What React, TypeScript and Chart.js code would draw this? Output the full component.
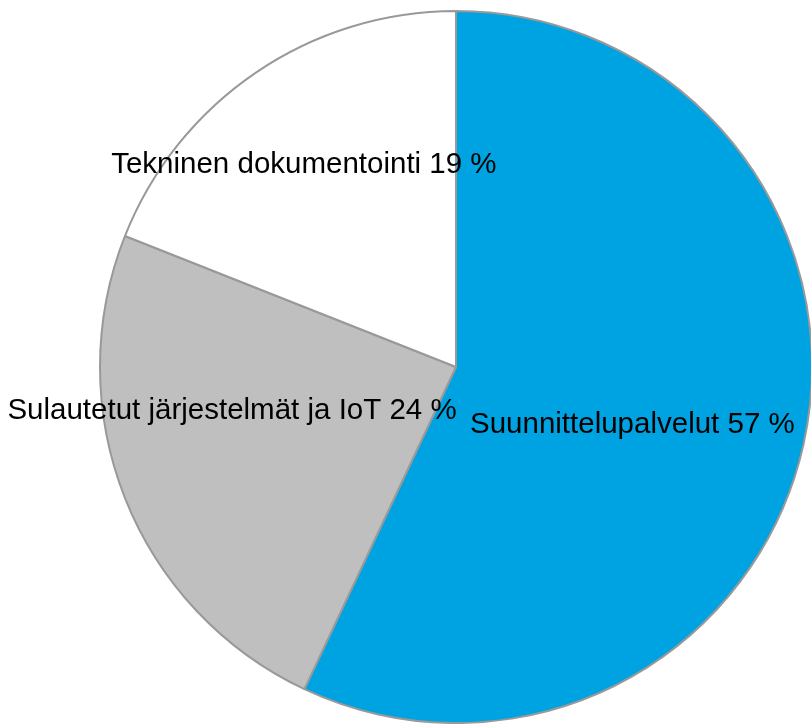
import React, { useEffect, useRef } from "react";
import { Chart, registerables } from "chart.js";

Chart.register(...registerables);

const categories = ["Suunnittelupalvelut", "Sulautetut järjestelmät ja IoT", "Tekninen dokumentointi"];
const values = [57, 24, 19];
const labelTexts = ["Suunnittelupalvelut 57 %", "Sulautetut järjestelmät ja IoT 24 %", "Tekninen dokumentointi 19 %"];

const colors = ["#00A3E2", "#BFBFBF", "#FFFFFF"];
// label placement relative to each arc: [radius fraction, angle offset in degrees]
const labelPlacement: [number, number][] = [
  [0.52, 5.1],
  [0.64, 11.0],
  [0.715, -2.5],
];

const labelPlugin = {
  id: "sliceLabels",
  afterDatasetsDraw(chart: any) {
    const ctx = chart.ctx;
    const meta = chart.getDatasetMeta(0);
    ctx.save();
    ctx.font = "29.5px 'Liberation Sans', Arial, sans-serif";
    ctx.fillStyle = "#000000";
    ctx.textAlign = "center";
    ctx.textBaseline = "middle";
    meta.data.forEach((arc: any, i: number) => {
      const { x, y, startAngle, endAngle, outerRadius } = arc.getProps(
        ["x", "y", "startAngle", "endAngle", "outerRadius"],
        true
      );
      const [frac, offDeg] = labelPlacement[i];
      const mid = (startAngle + endAngle) / 2 + (offDeg * Math.PI) / 180;
      const r = outerRadius * frac;
      ctx.fillText(labelTexts[i], x + r * Math.cos(mid), y + r * Math.sin(mid) + 2);
    });
    ctx.restore();
  },
};

export default function App() {
  const ref = useRef<HTMLCanvasElement | null>(null);
  useEffect(() => {
    document.body.style.margin = "0";
    document.body.style.overflow = "hidden";
    if (!ref.current) return;
    const chart = new Chart(ref.current, {
      type: "pie",
      data: {
        labels: categories,
        datasets: [
          {
            data: values,
            backgroundColor: colors,
            borderColor: "#999999",
            borderWidth: 2,
          },
        ],
      },
      options: {
        animation: false,
        responsive: false,
        maintainAspectRatio: false,
        radius: 356,
        layout: { padding: { left: 101, right: 0, top: 10, bottom: 0 } },
        plugins: {
          legend: { display: false },
          tooltip: { enabled: false },
        },
        events: [],
      } as any,
      plugins: [labelPlugin],
    });
    return () => chart.destroy();
  }, []);
  return (
    <div style={{ width: 811, height: 724 }}>
      <canvas ref={ref} width={811} height={724} style={{ display: "block" }} />
    </div>
  );
}
